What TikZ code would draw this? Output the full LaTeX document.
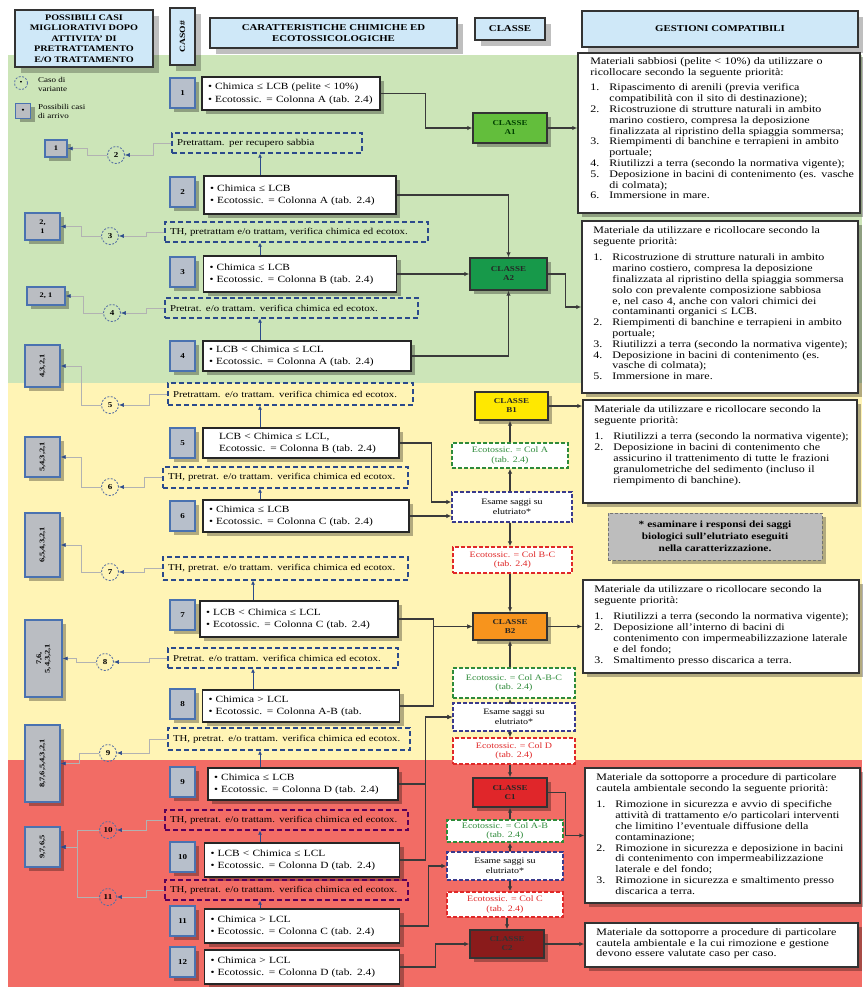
\documentclass[tikz,border=0pt]{standalone}
\usepackage{fontspec}
\setmainfont{Liberation Serif}[FakeStretch=1.2]
\usetikzlibrary{arrows.meta,shadows,calc}
\definecolor{bggreen}{HTML}{CCE5B8}
\definecolor{bgyellow}{HTML}{FFF4B5}
\definecolor{bgred}{HTML}{F26C65}
\definecolor{hdrblue}{HTML}{CFE8F8}
\definecolor{caseblue}{HTML}{4A72B0}
\definecolor{casegrey}{HTML}{B7BFCB}
\definecolor{greybox}{HTML}{BABDC2}
\definecolor{varblue}{HTML}{2B4A8C}
\definecolor{clA1}{HTML}{63BE3C}
\definecolor{clA2}{HTML}{17994A}
\definecolor{clB1}{HTML}{FFE800}
\definecolor{clB2}{HTML}{F7941D}
\definecolor{clC1}{HTML}{E0262A}
\definecolor{clC2}{HTML}{8A1B1B}
\definecolor{okgreen}{HTML}{2E8B3A}
\definecolor{kored}{HTML}{E02828}
\definecolor{esblue}{HTML}{3A3A8C}
\definecolor{notegrey}{HTML}{BDBDBD}
\definecolor{linecol}{HTML}{3A3A3A}
\newcommand\li[2]{\par\hangindent=19pt\hangafter=1\noindent\makebox[19pt][l]{#1}#2\par}
\newcommand\fs[2]{\fontsize{#1}{#2}\selectfont}
\tikzset{
  shad/.style={drop shadow={shadow xshift=4pt,shadow yshift=-4pt,fill=black,opacity=.3}},
  hdr/.style={draw=black!80,line width=1.4pt,fill=hdrblue,font=\fs{9}{10.5}\bfseries,align=center,inner sep=1pt,
    drop shadow={shadow xshift=6pt,shadow yshift=-6pt,fill=black,opacity=.25}},
  casebox/.style={draw=caseblue,line width=1.3pt,fill=casegrey,minimum width=25pt,minimum height=30pt,inner sep=0pt,
    font=\fs{7.5}{9}\bfseries,shad},
  charbox/.style={draw=black!85,line width=1.5pt,fill=white,align=left,font=\fs{9.5}{12.5},inner xsep=6pt,inner ysep=1pt,shad},
  varbox/.style={draw=varblue,dash pattern=on 5pt off 3pt,line width=1.3pt,align=left,font=\fs{9}{10},inner xsep=5pt,inner ysep=1pt},
  varcirc/.style={circle,draw=varblue!80,dash pattern=on 2pt off 1.5pt,line width=.8pt,minimum size=17pt,inner sep=0pt,font=\fs{7.5}{9}\bfseries},
  arrbox/.style={draw=caseblue,line width=1.2pt,fill=greybox,inner sep=0pt,shad},
  arrtext/.style={font=\fs{7}{8.5}\bfseries,align=center,inner sep=0pt},
  classbox/.style={draw=black!80,line width=1.4pt,align=center,font=\fs{7.5}{9}\bfseries,inner sep=0pt,shad},
  midbox/.style={dash pattern=on 4pt off 2pt,line width=1.3pt,fill=white,align=center,font=\fs{8.3}{9.5},inner sep=1pt},
  rbox/.style={draw=black!80,line width=1.5pt,fill=white,inner sep=0pt,shad},
  rtext/.style={font=\fs{10}{10.8},align=left,inner sep=0pt},
  conn/.style={line width=1.2pt,draw=linecol,-{Latex[length=5pt,width=4.5pt]}},
  vline/.style={line width=.6pt,draw=gray!60,-{Latex[length=5pt,width=4pt,color=varblue]}},
  upc/.style={line width=1pt,draw=varblue,-{Latex[length=4pt,width=4pt]}}
}
\begin{document}
\hyphenpenalty=10000
\exhyphenpenalty=10000
\begin{tikzpicture}[x=1pt,y=-1pt]
\useasboundingbox (0,0) rectangle (862,987);
\fill[white] (0,0) rectangle (862,987);
\fill[bggreen] (8,55) rectangle (862,383);
\fill[bgyellow] (8,383) rectangle (862,760);
\fill[bgred] (8,760) rectangle (862,987);
\coordinate (ux) at (260,0);
\coordinate (uy) at (253,0);
\coordinate (mx) at (510,0);
\coordinate (mxb) at (507,0);

% headers
\node[hdr,font=\fs{8.5}{10.5}\bfseries,minimum width=138pt,minimum height=57pt] (h1) at (84,38.5) {POSSIBILI CASI\\MIGLIORATIVI DOPO\\ATTIVITA' DI\\PRETRATTAMENTO\\E/O TRATTAMENTO};
\node[hdr,minimum width=25pt,minimum height=57pt] (h2) at (182.5,36.5) {};
\node[rotate=90,font=\fs{8}{9}\bfseries] (h2t) at (h2.center) {CASO\#};
\node[hdr,minimum width=247pt,minimum height=30pt] (h3) at (333.5,33) {CARATTERISTICHE CHIMICHE ED\\ECOTOSSICOLOGICHE};
\node[hdr,minimum width=70pt,minimum height=22pt] (h4) at (510,29) {CLASSE};
\node[hdr,minimum width=276pt,minimum height=36pt] (h5) at (720,29) {GESTIONI COMPATIBILI};

% legend
\node[varcirc,minimum size=13pt,font=\fs{7}{8}] (lc) at (21,83) {•};
\node[anchor=west,font=\fs{7.5}{9},align=left,inner sep=0pt] (lct) at (38,84) {Caso di\\variante};
\node[arrbox,minimum width=15pt,minimum height=15pt] (lb) at (23,111) {};
\node[arrtext] (lbt0) at (lb.center) {•};
\node[anchor=west,font=\fs{7.5}{9},align=left,inner sep=0pt] (lbt) at (38,111) {Possibili casi\\di arrivo};

% case numbers
\node[casebox] (n1) at (182.5,93) {1};
\node[casebox] (n2) at (182.5,192) {2};
\node[casebox] (n3) at (182.5,272) {3};
\node[casebox] (n4) at (182.5,356) {4};
\node[casebox] (n5) at (182.5,443) {5};
\node[casebox] (n6) at (182.5,516) {6};
\node[casebox] (n7) at (182.5,615) {7};
\node[casebox] (n8) at (182.5,704) {8};
\node[casebox] (n9) at (182.5,782) {9};
\node[casebox] (n10) at (182.5,857) {10};
\node[casebox] (n11) at (182.5,921) {11};
\node[casebox] (n12) at (182.5,962) {12};

% characteristics
\node[charbox,text width=166pt,minimum height=33pt] (k1) at (291,93.5) {• Chimica ≤ LCB (pelite < 10\%)\\• Ecotossic. = Colonna A (tab. 2.4)};
\node[charbox,text width=180pt,minimum height=38pt] (k2) at (300,195) {• Chimica ≤ LCB\\• Ecotossic. = Colonna A (tab. 2.4)};
\node[charbox,text width=181pt,minimum height=36pt] (k3) at (300,274) {• Chimica ≤ LCB\\• Ecotossic. = Colonna B (tab. 2.4)};
\node[charbox,text width=196pt,minimum height=30pt] (k4) at (307,356) {• LCB < Chimica ≤ LCL\\• Ecotossic. = Colonna A (tab. 2.4)};
\node[charbox,text width=184pt,minimum height=30pt] (k5) at (301,443) {\hspace{10pt}LCB < Chimica ≤ LCL,\\\hspace{10pt}Ecotossic. = Colonna B (tab. 2.4)};
\node[charbox,text width=194pt,minimum height=32pt] (k6) at (306,516) {• Chimica ≤ LCB\\• Ecotossic. = Colonna C (tab. 2.4)};
\node[charbox,text width=186pt,minimum height=36pt] (k7) at (299,619) {• LCB < Chimica ≤ LCL\\• Ecotossic. = Colonna C (tab. 2.4)};
\node[charbox,text width=185pt,minimum height=32pt] (k8) at (301,706) {• Chimica > LCL\\• Ecotossic. = Colonna A-B (tab.};
\node[charbox,text width=178pt,minimum height=32pt] (k9) at (303,784) {• Chimica ≤ LCB\\• Ecotossic. = Colonna D (tab. 2.4)};
\node[charbox,text width=183pt,minimum height=34pt] (k10) at (302,860) {• LCB < Chimica ≤ LCL\\• Ecotossic. = Colonna D (tab. 2.4)};
\node[charbox,text width=183pt,minimum height=34pt] (k11) at (302,926) {• Chimica > LCL\\• Ecotossic. = Colonna C (tab. 2.4)};
\node[charbox,text width=183pt,minimum height=34pt] (k12) at (302,967) {• Chimica > LCL\\• Ecotossic. = Colonna D (tab. 2.4)};

% variant boxes
\node[varbox,text width=180pt,minimum height=20pt] (dv2) at (267,143) {Pretrattam. per recupero sabbia};
\node[varbox,text width=253pt,minimum height=20pt] (dv3) at (296.5,232) {TH, pretrattam e/o trattam, verifica chimica ed ecotox.};
\node[varbox,text width=243pt,minimum height=20pt] (dv4) at (291.5,308) {Pretrat. e/o trattam. verifica chimica ed ecotox.};
\node[varbox,text width=235pt,minimum height=22pt] (dv5) at (290.5,394) {Pretrattam. e/o trattam. verifica chimica ed ecotox.};
\node[varbox,text width=235pt,minimum height=21pt] (dv6) at (285.5,477.5) {TH, pretrat. e/o trattam. verifica chimica ed ecotox.};
\node[varbox,text width=235pt,minimum height=23pt] (dv7) at (285.5,568.5) {TH, pretrat. e/o trattam. verifica chimica ed ecotox.};
\node[varbox,text width=220pt,minimum height=20pt] (dv8) at (283,658) {Pretrat. e/o trattam. verifica chimica ed ecotox.};
\node[varbox,text width=232pt,minimum height=22pt] (dv9) at (289,739) {TH, pretrat. e/o trattam. verifica chimica ed ecotox.};
\node[varbox,draw=violet!70!black,text width=233pt,minimum height=20pt] (dv10) at (286.5,820) {TH, pretrat. e/o trattam. verifica chimica ed ecotox.};
\node[varbox,draw=violet!70!black,text width=233pt,minimum height=20pt] (dv11) at (286.5,890) {TH, pretrat. e/o trattam. verifica chimica ed ecotox.};

% variant circles
\node[varcirc] (c2) at (116,155) {2};
\node[varcirc] (c3) at (110,236) {3};
\node[varcirc] (c4) at (112,313) {4};
\node[varcirc] (c5) at (110,405) {5};
\node[varcirc] (c6) at (110,487) {6};
\node[varcirc] (c7) at (110,572) {7};
\node[varcirc] (c8) at (105,662) {8};
\node[varcirc] (c9) at (108,753) {9};
\node[varcirc] (c10) at (108,830) {10};
\node[varcirc] (c11) at (108,897) {11};

% arrival boxes
\node[arrbox,minimum width=22pt,minimum height=17pt] (g2) at (56,148.5) {};
\node[arrtext] (g2t) at (g2.center) {1};
\node[arrbox,minimum width=35pt,minimum height=27pt] (g3) at (42.5,226.5) {};
\node[arrtext] (g3t) at (g3.center) {2,\\1};
\node[arrbox,minimum width=38pt,minimum height=18pt] (g4) at (46,296) {};
\node[arrtext] (g4t) at (g4.center) {2, 1};
\node[arrbox,minimum width=35pt,minimum height=42pt] (g5) at (42.5,366) {};
\node[arrtext,rotate=90] (g5t) at (g5.center) {4,3,2,1};
\node[arrbox,minimum width=35pt,minimum height=40pt] (g6) at (42.5,457) {};
\node[arrtext,rotate=90] (g6t) at (g6.center) {5,4,3,2,1};
\node[arrbox,minimum width=35pt,minimum height=64pt] (g7) at (42.5,545) {};
\node[arrtext,rotate=90] (g7t) at (g7.center) {6,5,4,3,2,1};
\node[arrbox,minimum width=37pt,minimum height=77pt] (g8) at (43.5,658.5) {};
\node[arrtext,rotate=90] (g8t) at (g8.center) {7,6,\\5,4,3,2,1};
\node[arrbox,minimum width=35pt,minimum height=77pt] (g9) at (42.5,763.5) {};
\node[arrtext,rotate=90] (g9t) at (g9.center) {8,7,6,5,4,3,2,1};
\node[arrbox,minimum width=35pt,minimum height=40pt] (g10) at (42.5,847) {};
\node[arrtext,rotate=90] (g10t) at (g10.center) {9,7,6,5};

% variant connectors
\foreach \i in {2,...,11}{\draw[vline] (dv\i.west) -- ++(-18,0) |- (c\i.east);}
\draw[vline] (c2.west) -- ++(-20,0) |- (g2.east);
\draw[vline] (c3.west) -- ++(-20,0) |- (g3.east);
\draw[vline] (c4.west) -- ++(-20,0) |- (g4.east);
\draw[vline] (c5.west) -- ++(-20,0) |- (g5.east);
\draw[vline] (c6.west) -- ++(-20,0) |- (g6.east);
\draw[vline] (c7.west) -- ++(-20,0) |- (g7.east);
\draw[vline] (c8.west) -- ++(-20,0) |- (g8.east);
\draw[vline] (c9.west) -- ++(-20,0) |- (g9.east);
\draw[vline] (c10.west) -- ++(-22,0) |- (g10.east);
\draw[vline] (c11.west) -- ++(-22,0) |- (g10.east);
\foreach \i in {2,3,4,5,6,9,10,11}{\draw[upc] (k\i.north -| ux) -- (dv\i.south -| ux);}
\foreach \i in {7,8}{\draw[upc] (k\i.north -| uy) -- (dv\i.south -| uy);}

% classes
\node[classbox,fill=clA1,text=green!25!black,minimum width=74pt,minimum height=30pt] (A1) at (510,128) {CLASSE\\A1};
\node[classbox,fill=clA2,text=black!85,minimum width=77pt,minimum height=32pt] (A2) at (508.5,274) {CLASSE\\A2};
\node[classbox,fill=clB1,text=black!85,minimum width=73pt,minimum height=28pt] (B1) at (511.5,406) {CLASSE\\B1};
\node[classbox,fill=clB2,text=black!85,minimum width=74pt,minimum height=27pt] (B2) at (510,626.5) {CLASSE\\B2};
\node[classbox,fill=clC1,text=black!85,minimum width=74pt,minimum height=29pt] (C1) at (510,792.5) {CLASSE\\C1};
\node[classbox,fill=clC2,text=black!80,minimum width=74pt,minimum height=28pt] (C2) at (507,944) {CLASSE\\C2};

% middle dashed boxes
\node[midbox,draw=okgreen,text=okgreen,minimum width=116pt,minimum height=25pt] (gA) at (510,455.5) {Ecotossic. = Col A\\(tab. 2.4)};
\node[midbox,draw=esblue,minimum width=120pt,minimum height=30pt] (es1) at (512,507) {Esame saggi su\\elutriato*};
\node[midbox,draw=kored,text=kored,minimum width=119pt,minimum height=26pt] (rBC) at (512.5,560) {Ecotossic. = Col B-C\\(tab. 2.4)};
\node[midbox,draw=okgreen,text=okgreen,minimum width=122pt,minimum height=30pt] (gABC) at (514,683) {Ecotossic. = Col A-B-C\\(tab. 2.4)};
\node[midbox,draw=esblue,minimum width=122pt,minimum height=28pt] (es2) at (514,717) {Esame saggi su\\elutriato*};
\node[midbox,draw=kored,text=kored,minimum width=122pt,minimum height=26pt] (rD) at (514,751) {Ecotossic. = Col D\\(tab. 2.4)};
\node[midbox,draw=okgreen,text=okgreen,minimum width=116pt,minimum height=22pt] (gAB) at (505,831) {Ecotossic. = Col A-B\\(tab. 2.4)};
\node[midbox,draw=esblue,minimum width=116pt,minimum height=28pt] (es3) at (505,866) {Esame saggi su\\elutriato*};
\node[midbox,draw=kored,text=kored,minimum width=116pt,minimum height=25pt] (rC) at (505,904.5) {Ecotossic. = Col C\\(tab. 2.4)};

\node[draw=black!55,dash pattern=on 3pt off 2pt,line width=1pt,fill=notegrey,minimum width=214pt,minimum height=47pt,align=center,font=\fs{9.5}{12}\bfseries,inner sep=1pt,shad] (note) at (715,536.5) {* esaminare i responsi dei saggi\\biologici sull'elutriato eseguiti\\nella caratterizzazione.};

% right boxes
\node[rbox,minimum width=282pt,minimum height=160pt] (rb1) at (719,133) {};
\node[rtext,text width=264pt,anchor=north west] (rb1t) at ($(rb1.north west)+(13,5)$) {Materiali sabbiosi (pelite < 10\%) da utilizzare o ricollocare secondo la seguente priorità:\par\vspace{5pt}
\li{1.}{Ripascimento di arenili (previa verifica compatibilità con il sito di destinazione);}
\li{2.}{Ricostruzione di strutture naturali in ambito marino costiero, compresa la deposizione finalizzata al ripristino della spiaggia sommersa;}
\li{3.}{Riempimenti di banchine e terrapieni in ambito portuale;}
\li{4.}{Riutilizzi a terra (secondo la normativa vigente);}
\li{5.}{Deposizione in bacini di contenimento (es. vasche di colmata);}
\li{6.}{Immersione in mare.}};
\node[rbox,minimum width=276pt,minimum height=172pt] (rb2) at (720,307) {};
\node[rtext,text width=258pt,anchor=north west] (rb2t) at ($(rb2.north west)+(12,6)$) {Materiale da utilizzare e ricollocare secondo la seguente priorità:\par\vspace{6pt}
\li{1.}{Ricostruzione di strutture naturali in ambito marino costiero, compresa la deposizione finalizzata al ripristino della spiaggia sommersa solo con prevalente composizione sabbiosa e, nel caso 4, anche con valori chimici dei contaminanti organici ≤ LCB.}
\li{2.}{Riempimenti di banchine e terrapieni in ambito portuale;}
\li{3.}{Riutilizzi a terra (secondo la normativa vigente);}
\li{4.}{Deposizione in bacini di contenimento (es. vasche di colmata);}
\li{5.}{Immersione in mare.}};
\node[rbox,minimum width=274pt,minimum height=103pt] (rb3) at (720,451.5) {};
\node[rtext,text width=256pt,anchor=north west] (rb3t) at ($(rb3.north west)+(12,6)$) {Materiale da utilizzare e ricollocare secondo la seguente priorità:\par\vspace{6pt}
\li{1.}{Riutilizzi a terra (secondo la normativa vigente);}
\li{2.}{Deposizione in bacini di contenimento che assicurino il trattenimento di tutte le frazioni granulometriche del sedimento (incluso il riempimento di banchine).}};
\node[rbox,minimum width=276pt,minimum height=93pt] (rb4) at (721,626.5) {};
\node[rtext,text width=258pt,anchor=north west] (rb4t) at ($(rb4.north west)+(12,6)$) {Materiale da utilizzare o ricollocare secondo la seguente priorità:\par\vspace{6pt}
\li{1.}{Riutilizzi a terra (secondo la normativa vigente);}
\li{2.}{Deposizione all'interno di bacini di contenimento con impermeabilizzazione laterale e del fondo;}
\li{3.}{Smaltimento presso discarica a terra.}};
\node[rbox,minimum width=275pt,minimum height=135pt] (rb5) at (722.5,835.5) {};
\node[rtext,text width=257pt,anchor=north west] (rb5t) at ($(rb5.north west)+(12,6)$) {Materiale da sottoporre a procedure di particolare cautela ambientale secondo la seguente priorità:\par\vspace{6pt}
\li{1.}{Rimozione in sicurezza e avvio di specifiche attività di trattamento e/o particolari interventi che limitino l'eventuale diffusione della contaminazione;}
\li{2.}{Rimozione in sicurezza e deposizione in bacini di contenimento con impermeabilizzazione laterale e del fondo;}
\li{3.}{Rimozione in sicurezza e smaltimento presso discarica a terra.}};
\node[rbox,minimum width=273pt,minimum height=44pt] (rb6) at (721.5,945) {};
\node[rtext,text width=255pt,anchor=north west] (rb6t) at ($(rb6.north west)+(12,6)$) {Materiale da sottoporre a procedure di particolare cautela ambientale e la cui rimozione e gestione devono essere valutate caso per caso.};

% main connectors
\draw[conn] (k1.east) -- ++(45,0) |- (A1.west);
\draw[conn] (k2.east) -| (A2.north);
\draw[conn] (k3.east) -- (k3.east -| A2.west);
\draw[conn] (k4.east) -| (A2.south);
\draw[conn] (A1.east) -- (A1.east -| rb1.west);
\draw[conn] (A2.east) -- ++(18,0) |- (rb2.west);
\draw[conn] (B1.east) -- (B1.east -| rb3.west);
\draw[conn] (gA.north -| mx) -- (B1.south -| mx);
\draw[conn] (es1.north -| mx) -- (gA.south -| mx);
\draw[conn] (k5.east) -- ++(32,0) |- ($(es1.west)+(0,-5)$);
\draw[conn] (k6.east) -- (k6.east -| es1.west);
\draw[conn] (es1.south -| mx) -- (rBC.north -| mx);
\draw[conn] (rBC.south -| mx) -- (B2.north -| mx);
\draw[conn] (k7.east) -- ++(35,0) |- (B2.west);
\draw[conn] (k8.east) -- ++(33,0) |- (B2.west);
\draw[conn] (B2.east) -- (B2.east -| rb4.west);
\draw[conn] (gABC.north -| mx) -- (B2.south -| mx);
\draw[conn] (es2.north -| mx) -- (gABC.south -| mx);
\draw[conn] (es2.south -| mx) -- (rD.north -| mx);
\draw[conn] (rD.south -| mx) -- (C1.north -| mx);
\draw[conn] (k9.east) -- ++(27,0) |- (es2.west);
\draw[conn] (k10.east) -- ++(25,0) |- (es2.west);
\draw[conn] (gAB.north -| mx) -- (C1.south -| mx);
\draw[conn] (es3.north -| mx) -- (gAB.south -| mx);
\draw[conn] (es3.south -| mx) -- (rC.north -| mx);
\draw[conn] (rC.south -| mxb) -- (C2.north -| mxb);
\draw[conn] (k11.east) -- ++(28,0) |- (es3.west);
\draw[conn] (k12.east) -- ++(35,0) |- (C2.west);
\draw[conn] (C1.east) -- ++(18,0) |- (rb5.west);
\draw[conn] (C2.east) -- (C2.east -| rb6.west);
\end{tikzpicture}
\end{document}
